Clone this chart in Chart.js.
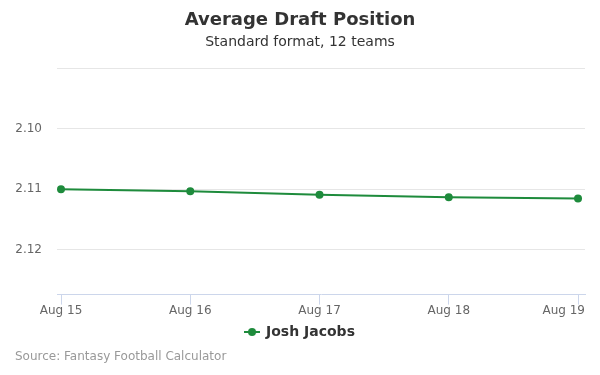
<!DOCTYPE html>
<html>
<head>
<meta charset="utf-8">
<script src="https://cdn.jsdelivr.net/npm/chart.js@4"></script>
<style>
    html, body { margin: 0; padding: 0; background: #fff; }
    #wrap { width: 600px; height: 375px; position: relative; }
</style>
</head>
<body>
<div id="wrap"><canvas id="graficoAdp"></canvas></div>
<script>
// Datos del gráfico
const categorias = ['Aug 15', 'Aug 16', 'Aug 17', 'Aug 18', 'Aug 19'];
const adpJosh = [2.1100, 2.1103, 2.1109, 2.1113, 2.1115];
const ticksY = [2.09, 2.10, 2.11, 2.12];
const nombreSerie = 'Josh Jacobs';

const verde = '#1e8b3c';
const fuente = "'DejaVu Sans', sans-serif";

// Símbolo de leyenda: línea con punto
const simbolo = document.createElement('canvas');
simbolo.width = 16;
simbolo.height = 10;
(function () {
    const c = simbolo.getContext('2d');
    c.strokeStyle = verde;
    c.lineWidth = 2;
    c.beginPath();
    c.moveTo(0, 5);
    c.lineTo(16, 5);
    c.stroke();
    c.fillStyle = verde;
    c.beginPath();
    c.arc(8, 5, 4, 0, Math.PI * 2);
    c.fill();
})();

// Etiquetas del eje X (la última se recorta al borde como en el original) y fuente
const textosExtra = {
    id: 'textosExtra',
    afterDraw(chart) {
        const { ctx, chartArea } = chart;
        const escalaX = chart.scales.x;
        ctx.save();
        ctx.font = '12px ' + fuente;
        ctx.fillStyle = '#666666';
        ctx.textBaseline = 'middle';
        ctx.textAlign = 'left';
        categorias.forEach((c, i) => {
            const px = escalaX.getPixelForValue(i);
            const w = ctx.measureText(c).width;
            let x = px - w / 2;
            if (x + w > chartArea.right) x = chartArea.right - w;
            ctx.fillText(c, x, chartArea.bottom + 16);
        });

        ctx.fillStyle = '#999999';
        ctx.fillText('Source: Fantasy Football Calculator', 15, 357);
        ctx.restore();
    }
};

new Chart(document.getElementById('graficoAdp'), {
    type: 'line',
    data: {
        datasets: [{
            label: nombreSerie,
            data: adpJosh.map((v, i) => ({ x: i, y: v })),
            borderColor: verde,
            backgroundColor: verde,
            borderWidth: 2,
            pointRadius: 4,
            pointBorderWidth: 0,
            pointHoverRadius: 5,
            tension: 0
        }]
    },
    options: {
        responsive: true,
        maintainAspectRatio: false,
        animation: false,
        layout: { padding: { left: 15, right: 15, top: 0, bottom: 26 } },
        plugins: {
            title: {
                display: true,
                text: 'Average Draft Position',
                color: '#333333',
                font: { family: fuente, size: 18, weight: 'bold' },
                padding: { top: 10, bottom: 2 }
            },
            subtitle: {
                display: true,
                text: 'Standard format, 12 teams',
                color: '#333333',
                font: { family: fuente, size: 14 },
                padding: { top: 0, bottom: 18 }
            },
            legend: {
                position: 'bottom',
                labels: {
                    color: '#333333',
                    font: { family: fuente, size: 14, weight: 'bold' },
                    usePointStyle: true,
                    generateLabels: (chart) => [{
                        text: nombreSerie,
                        pointStyle: simbolo,
                        fontColor: '#333333',
                        datasetIndex: 0,
                        hidden: false
                    }]
                }
            },
            tooltip: { enabled: true }
        },
        scales: {
            x: {
                type: 'linear',
                min: -0.031,
                max: 4.054,
                afterBuildTicks: (scale) => {
                    scale.ticks = categorias.map((c, i) => ({ value: i }));
                },
                afterFit: (scale) => {
                    scale.height -= 4;
                    scale.paddingLeft = 0;
                    scale.paddingRight = 0;
                },
                ticks: {
                    color: 'rgba(0,0,0,0)',
                    font: { family: fuente, size: 12 },
                    padding: 0,
                    maxRotation: 0,
                    autoSkip: false,
                    callback: (v) => categorias[v]
                },
                grid: {
                    drawOnChartArea: false,
                    drawTicks: true,
                    tickLength: 10,
                    color: '#ccd6eb'
                },
                border: { color: '#ccd6eb', width: 1 }
            },
            y: {
                reverse: true,
                min: 2.09,
                max: 2.1274,
                afterBuildTicks: (scale) => {
                    scale.ticks = ticksY.map(v => ({ value: v }));
                },
                afterFit: (scale) => {
                    scale.width = 42;
                },
                ticks: {
                    color: '#666666',
                    font: { family: fuente, size: 12 },
                    padding: 15,
                    callback: (v) => (Math.abs(v - 2.09) < 1e-6 ? '' : v.toFixed(2))
                },
                grid: { color: '#e6e6e6', drawTicks: false },
                border: { display: false }
            }
        }
    },
    plugins: [textosExtra]
});
</script>
</body>
</html>
